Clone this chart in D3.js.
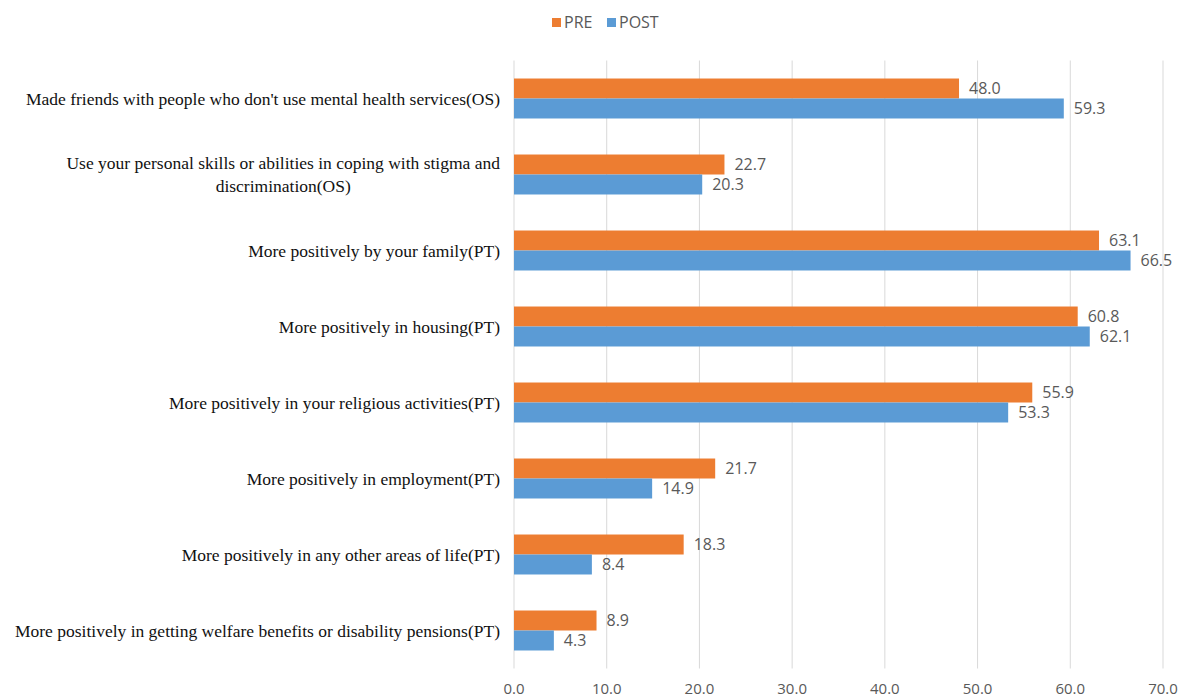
<!DOCTYPE html>
<html>
<head>
<meta charset="utf-8">
<script src="https://cdn.jsdelivr.net/npm/d3@7"></script>
<style>
  body { margin: 0; background: #fff; }
  .cat { font-family: "Liberation Serif", "Times New Roman", serif; font-size: 17.5px; fill: #111; }
  .val, .tick text, .legend text { font-family: "Open Sans", "Liberation Sans", sans-serif; fill: #595959; }
</style>
</head>
<body>
<div id="chart"></div>
<script>
// categories (top to bottom)
var categories = [
  ["Made friends with people who don't use mental health services(OS)"],
  ["Use your personal skills or abilities in coping with stigma and", "discrimination(OS)"],
  ["More positively by your family(PT)"],
  ["More positively in housing(PT)"],
  ["More positively in your religious activities(PT)"],
  ["More positively in employment(PT)"],
  ["More positively in any other areas of life(PT)"],
  ["More positively in getting welfare benefits or disability pensions(PT)"]
];
var preValues = [48.0, 22.7, 63.1, 60.8, 55.9, 21.7, 18.3, 8.9];
var postValues = [59.3, 20.3, 66.5, 62.1, 53.3, 14.9, 8.4, 4.3];
var seriesNames = ["PRE", "POST"];
var seriesColors = ["#ED7D31", "#5B9BD5"];
var xTicks = [0, 10, 20, 30, 40, 50, 60, 70];

var width = 1182, height = 697;
var margin = {left: 514, right: 19, top: 60.5, bottom: 28.5};

var svg = d3.select("#chart")
    .append("svg")
    .attr("width", width)
    .attr("height", height);

var x = d3.scaleLinear().domain([0, 70]).range([margin.left, width - margin.right]);
var y = d3.scaleBand().domain(d3.range(categories.length))
    .range([margin.top, height - margin.bottom]).paddingInner(0.474).paddingOuter(0.237);
var inner = d3.scaleBand().domain([0, 1]).range([0, y.bandwidth()]);

// gridlines
svg.append("g").selectAll("line")
    .data(xTicks).enter().append("line")
    .attr("x1", function (d) { return x(d); })
    .attr("x2", function (d) { return x(d); })
    .attr("y1", margin.top)
    .attr("y2", height - margin.bottom)
    .attr("stroke", "#D9D9D9")
    .attr("stroke-width", 1);

// tick labels
svg.append("g").attr("class", "tick").selectAll("text")
    .data(xTicks).enter().append("text")
    .attr("x", function (d) { return x(d); })
    .attr("y", 694)
    .attr("text-anchor", "middle")
    .style("font-size", "15px")
    .text(function (d) { return d.toFixed(1); });

var series = [preValues, postValues];
series.forEach(function (vals, s) {
  var g = svg.append("g");
  g.selectAll("rect")
      .data(vals).enter().append("rect")
      .attr("x", x(0))
      .attr("y", function (d, i) { return y(i) + inner(s); })
      .attr("width", function (d) { return x(d) - x(0); })
      .attr("height", inner.bandwidth())
      .attr("fill", seriesColors[s]);
  g.selectAll("text")
      .data(vals).enter().append("text")
      .attr("class", "val")
      .attr("x", function (d) { return x(d) + 10; })
      .attr("y", function (d, i) { return y(i) + inner(s) + inner.bandwidth() / 2; })
      .attr("dy", "0.35em")
      .style("font-size", "16px")
      .text(function (d) { return d.toFixed(1); });
});

// category labels (wrapped labels are centred on their widest line)
var cats = svg.append("g").selectAll("text")
    .data(categories).enter().append("text")
    .attr("class", "cat")
    .attr("y", function (d, i) { return y(i) + y.bandwidth() / 2 - (d.length - 1) * 11.5; });
cats.selectAll("tspan")
    .data(function (d) { return d; }).enter().append("tspan")
    .attr("dy", function (d, j) { return j === 0 ? "0.35em" : "23px"; })
    .text(function (d) { return d; });
cats.each(function (d) {
  var t = d3.select(this);
  if (d.length === 1) {
    t.attr("text-anchor", "end").selectAll("tspan").attr("x", 500);
  } else {
    var w = 0;
    t.selectAll("tspan").each(function () { w = Math.max(w, this.getComputedTextLength()); });
    t.attr("text-anchor", "middle").selectAll("tspan").attr("x", 500 - w / 2);
  }
});

// legend
var legend = svg.append("g").attr("class", "legend");
var legendX = [552, 607];
seriesNames.forEach(function (name, s) {
  legend.append("rect")
      .attr("x", legendX[s]).attr("y", 18)
      .attr("width", 9).attr("height", 9)
      .attr("fill", seriesColors[s]);
  legend.append("text")
      .attr("x", legendX[s] + 12).attr("y", 22.5)
      .attr("dy", "0.35em")
      .style("font-size", "16px")
      .text(name);
});
</script>
</body>
</html>
